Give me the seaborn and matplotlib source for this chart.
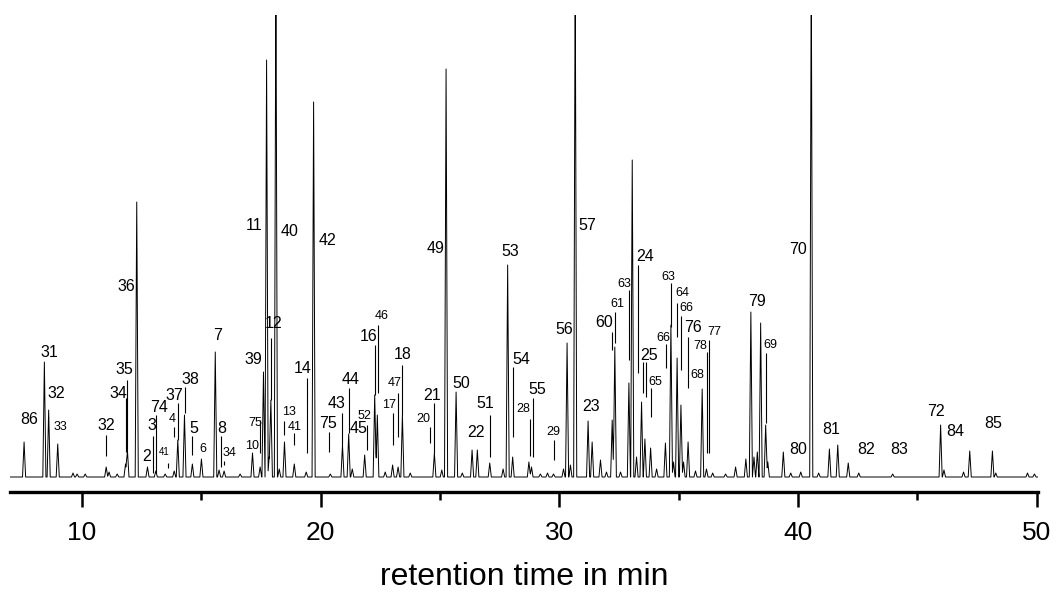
import numpy as np
import pandas as pd
import matplotlib
matplotlib.use("Agg")
import matplotlib.pyplot as plt
from matplotlib.ticker import MultipleLocator
import seaborn as sns

# peaks: retention time (min) and height (arbitrary units)
peak_rt = [7.57, 8.42, 8.60, 8.98, 9.62, 9.79, 10.13, 11.01, 11.13, 11.47,
           11.82, 11.90, 12.29, 12.74, 13.09, 13.48, 13.86, 14.01, 14.29, 14.62,
           15.00, 15.58, 15.74, 15.95, 16.62, 17.14, 17.46, 17.60, 17.73, 17.84,
           17.91, 18.12, 18.26, 18.48, 18.89, 19.39, 19.70, 20.40, 20.91, 21.17,
           21.32, 21.84, 22.26, 22.37, 22.70, 23.01, 23.24, 23.42, 23.75, 24.76,
           25.07, 25.25, 25.67, 25.93, 26.34, 26.56, 27.08, 27.64, 27.83, 28.04,
           28.72, 28.83, 29.20, 29.50, 29.75, 30.17, 30.32, 30.46, 30.66, 31.20,
           31.37, 31.72, 31.97, 32.21, 32.32, 32.56, 32.91, 33.05, 33.23, 33.44,
           33.58, 33.82, 34.07, 34.44, 34.67, 34.78, 34.93, 35.09, 35.20, 35.39,
           35.70, 35.98, 36.16, 36.42, 36.96, 37.38, 37.81, 38.02, 38.15, 38.29,
           38.43, 38.64, 38.73, 39.38, 39.69, 40.11, 40.55, 40.86, 41.31, 41.66,
           42.10, 42.54, 43.96, 45.97, 46.11, 46.93, 47.19, 48.14, 48.28, 49.61,
           49.90]
peak_height = [35, 115, 67, 33, 4, 3, 3, 10, 5, 3,
               13, 27, 275, 10, 6, 3, 6, 37, 62, 13,
               18, 125, 7, 6, 3, 24, 10, 105, 417, 20,
               77, 520, 8, 35, 13, 5, 375, 3, 32, 43,
               8, 22, 82, 62, 5, 12, 10, 62, 4, 24,
               7, 408, 85, 4, 27, 27, 14, 8, 212, 20,
               15, 10, 3, 4, 3, 8, 134, 12, 520, 56,
               35, 17, 5, 57, 130, 5, 94, 317, 20, 75,
               38, 29, 8, 34, 152, 15, 119, 72, 15, 35,
               6, 88, 8, 4, 3, 10, 18, 165, 20, 25,
               154, 52, 15, 25, 4, 5, 520, 4, 28, 32,
               14, 4, 3, 52, 7, 5, 26, 26, 4, 4,
               3]

# peak labels (compound numbers) and where they sit
label_text = ["86", "31", "32", "33", "32", "34", "35", "36", "2", "3", "74", "41", "4",
              "37", "38", "5", "6", "7", "8", "34", "10", "75", "39", "11", "12", "40",
              "13", "41", "14", "42", "75", "43", "44", "45", "52", "16", "46", "17",
              "47", "18", "20", "21", "49", "50", "22", "51", "53", "54", "28", "55",
              "29", "56", "57", "23", "60", "61", "63", "24", "25", "65", "66", "63",
              "64", "66", "76", "78", "77", "68", "79", "69", "70", "80", "81", "82",
              "83", "72", "84", "85"]
label_x = [7.79, 8.63, 8.91, 9.08, 11.01, 11.52, 11.77, 11.87, 12.71, 12.94, 13.24, 13.44, 13.79,
           13.86, 14.53, 14.67, 15.04, 15.66, 15.86, 16.18, 17.12, 17.27, 17.18, 17.21, 18.02, 18.69,
           18.65, 18.89, 19.25, 20.29, 20.29, 20.68, 21.27, 21.59, 21.84, 22.00, 22.54, 22.86,
           23.08, 23.45, 24.29, 24.68, 24.79, 25.88, 26.52, 26.88, 27.92, 28.39, 28.50, 29.07,
           29.76, 30.21, 31.16, 31.33, 31.86, 32.44, 32.70, 33.58, 33.74, 34.03, 34.35, 34.58,
           35.13, 35.32, 35.58, 35.88, 36.51, 35.77, 38.26, 38.85, 39.99, 39.99, 41.39, 42.83,
           44.23, 45.78, 46.59, 48.18]
label_y = [57.7, 124.3, 83.7, 49.7, 51.3, 83.7, 107, 190.3, 20.3, 51.3, 69.7, 25.3, 58,
           81, 97.7, 48.7, 28, 142, 48.7, 23.7, 30.7, 54, 117, 252, 153, 245.3,
           65.3, 49.7, 108.7, 236.3, 53, 73.7, 97, 48.7, 61, 140.3, 161, 72,
           94.3, 122.7, 57.7, 82, 228.7, 93.7, 44.3, 73, 225.3, 118, 68, 87,
           44.7, 147, 252, 70.3, 154.3, 173, 193, 220.3, 122, 94.7, 138.7, 200.3,
           184.3, 168.7, 149.7, 131, 145.3, 102, 175.3, 132, 227.7, 27.7, 47, 28,
           27.7, 65.3, 45.3, 53.7]
label_size = ["L", "L", "L", "M", "L", "L", "L", "L", "L", "L", "L", "S", "M",
              "L", "L", "L", "M", "L", "L", "M", "M", "M", "L", "L", "L", "L",
              "M", "M", "L", "L", "L", "L", "L", "L", "M", "L", "M", "M",
              "M", "L", "M", "L", "L", "L", "L", "L", "L", "L", "M", "L",
              "M", "L", "L", "L", "L", "M", "M", "L", "L", "M", "M", "M",
              "M", "M", "L", "M", "M", "M", "L", "M", "L", "L", "L", "L",
              "L", "L", "L", "L"]

# leader lines from labels down to their peaks: x, lower end, upper end
leader_x = [11.01, 11.82, 11.90, 13.10, 12.98, 13.58, 13.86, 14.01, 14.32, 14.62, 15.82, 15.95,
            17.46, 17.91, 18.48, 18.89, 19.42, 20.34, 20.91, 21.17, 21.95, 22.26, 22.40, 23.01,
            23.22, 23.42, 24.59, 24.73, 27.08, 28.04, 28.75, 28.88, 29.78, 32.21, 32.32, 32.91,
            33.29, 33.49, 33.64, 33.83, 34.46, 34.67, 34.94, 35.09, 35.40, 36.19, 36.28, 38.64]
leader_lo = [21, 25.3, 27, 4, 4, 8.7, 39.7, 37, 64, 22, 10.3, 12,
             24, 77, 42, 32, 23.7, 25.3, 32, 43.7, 27, 82, 83.7, 32,
             40.3, 62, 33.7, 23.7, 20.3, 40.3, 21, 20.3, 17, 127, 133.7, 117,
             103.7, 83.7, 80.3, 60.3, 108.7, 150.3, 140.3, 107, 88.7, 23.7, 23.7, 53.7]
leader_hi = [42, 79, 97, 62, 41, 13.7, 50.3, 74, 89.7, 41, 41, 16.3,
             57, 138.7, 56.3, 43.7, 98.7, 45.3, 63.7, 88.7, 52, 132, 152, 63.7,
             83.7, 112, 50.3, 73.7, 62, 110.3, 57.7, 78.7, 37, 145.3, 165.3, 187,
             212, 115.3, 115.3, 88.7, 133, 193.7, 174.3, 161, 140.3, 125.3, 137, 123.7]

# build the trace: each read peak drawn as a narrow spike on a flat baseline
half_width = 0.065
rt_grid = np.arange(6.98, 50.05, 0.005)
signal = np.zeros_like(rt_grid)
for t, h in zip(peak_rt, peak_height):
    signal += np.interp(rt_grid, [t - half_width, t, t + half_width], [0, h, 0], left=0, right=0)
trace = pd.DataFrame({"rt": rt_grid, "signal": signal})

sns.set_style("white")
plt.rcParams["font.family"] = ["Liberation Sans", "DejaVu Sans"]
plt.rcParams["text.color"] = "black"
plt.rcParams["xtick.color"] = "black"
plt.rcParams["axes.edgecolor"] = "black"

fig = plt.figure(figsize=(10.56, 5.95), dpi=100)
ax = fig.add_axes([10 / 1056, 103 / 595, 1028 / 1056, 477 / 595])
sns.lineplot(data=trace, x="rt", y="signal", color="black", linewidth=0.7,
             estimator=None, sort=False, ax=ax)

sizes = {"L": 11.5, "M": 9, "S": 7}
for txt, x, y, s in zip(label_text, label_x, label_y, label_size):
    ax.text(x, y, txt, fontsize=sizes[s], ha="center", va="center", color="black")
ax.vlines(leader_x, leader_lo, leader_hi, color="black", linewidth=0.8)

ax.set_xlim(6.98, 50.05)
ax.set_ylim(-15, 462)
sns.despine(ax=ax, left=True, top=True, right=True)
ax.spines["bottom"].set_linewidth(2.4)
ax.spines["bottom"].set_color("black")
ax.set_yticks([])
ax.set_xticks([10, 20, 30, 40, 50])
ax.xaxis.set_minor_locator(MultipleLocator(5))
ax.tick_params(axis="x", which="major", direction="out", length=11, width=1.8,
               labelsize=19, pad=10, bottom=True, colors="black")
ax.tick_params(axis="x", which="minor", direction="out", length=6, width=1.8,
               bottom=True, colors="black")
ax.set_xlabel("")
ax.set_ylabel("")
fig.text(524 / 1056, 1 - 577 / 595, "retention time in min", fontsize=23,
         ha="center", va="center", color="black")

plt.savefig("out.png", dpi=100)
